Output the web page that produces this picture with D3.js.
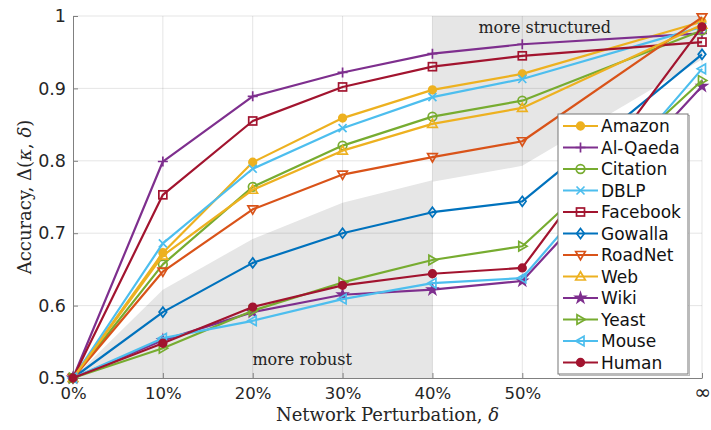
<!DOCTYPE html>
<html><head><meta charset="utf-8">
<script src="https://cdn.jsdelivr.net/npm/d3@7"></script>
<style>body{margin:0;background:#fff}svg{display:block}</style>
</head><body>
<script>
const categories = ["0%","10%","20%","30%","40%","50%","∞"];
const slots = [0,1,2,3,4,5,7];
const yTicks = [0.5,0.6,0.7,0.8,0.9,1];
const yTickLabels = ["0.5","0.6","0.7","0.8","0.9","1"];
const seriesNames = ["Amazon","Al-Qaeda","Citation","DBLP","Facebook","Gowalla","RoadNet","Web","Wiki","Yeast","Mouse","Human"];
const amazon   = [0.5,0.673,0.798,0.859,0.898,0.920,0.992];
const alqaeda  = [0.5,0.799,0.889,0.922,0.948,0.961,0.976];
const citation = [0.5,0.657,0.764,0.821,0.861,0.883,0.980];
const dblp     = [0.5,0.686,0.789,0.845,0.888,0.913,0.985];
const facebook = [0.5,0.753,0.855,0.902,0.930,0.945,0.964];
const gowalla  = [0.5,0.591,0.659,0.700,0.729,0.744,0.947];
const roadnet  = [0.5,0.647,0.733,0.781,0.805,0.827,0.998];
const web      = [0.5,0.669,0.760,0.814,0.851,0.873,0.988];
const wiki     = [0.5,0.552,0.591,0.615,0.622,0.634,0.903];
const yeast    = [0.5,0.541,0.593,0.632,0.663,0.682,0.911];
const mouse    = [0.5,0.555,0.579,0.609,0.631,0.638,0.927];
const human    = [0.5,0.548,0.598,0.628,0.644,0.652,0.985];
const seriesValues = [amazon,alqaeda,citation,dblp,facebook,gowalla,roadnet,web,wiki,yeast,mouse,human];
const colors = ["#EDB120","#7E2F8E","#77AC30","#4DBEEE","#A2142F","#0072BD","#D95319","#EDB120","#7E2F8E","#77AC30","#4DBEEE","#A2142F"];
const markers = ["circleF","plus","circle","cross","square","diamond","triDown","triUp","star","triRight","triLeft","circleF"];
// shaded bands: [slot, value]
const robustBand = [[0,0.5],[1,0.622],[2,0.692],[3,0.742],[4,0.773],[4,0.5]];
const structuredBand = [[4,1],[4,0.771],[5,0.793],[7,0.94],[7,1]];

const W=711,H=430;
const svg=d3.select("body").append("svg").attr("width",W).attr("height",H);
const x=d3.scaleLinear().domain([0,7]).range([73,702]);
const y=d3.scaleLinear().domain([0.5,1]).range([378,16]);

// bands
const area=d3.line().x(d=>x(d[0])).y(d=>y(d[1]));
svg.append("path").attr("d",area(robustBand)+"Z").attr("fill","#e6e6e6");
svg.append("path").attr("d",area(structuredBand)+"Z").attr("fill","#e6e6e6");

// grid
const g=svg.append("g");
g.selectAll(".vg").data(slots.slice(1)).enter().append("line")
 .attr("x1",d=>x(d)).attr("x2",d=>x(d)).attr("y1",y(0.5)).attr("y2",y(1))
 .attr("stroke","#262626").attr("stroke-opacity",0.12).attr("stroke-width",1);
g.selectAll(".hg").data(yTicks.slice(1)).enter().append("line")
 .attr("x1",x(0)).attr("x2",x(7)).attr("y1",d=>y(d)).attr("y2",d=>y(d))
 .attr("stroke","#262626").attr("stroke-opacity",0.12).attr("stroke-width",1);

// axes
const xAxis=d3.axisBottom(x).tickValues(slots).tickFormat((d,i)=>categories[i]).tickSizeInner(-5).tickSizeOuter(0).tickPadding(9);
const xa=svg.append("g").attr("transform",`translate(0,${y(0.5)})`).call(xAxis);
const yAxis=d3.axisLeft(y).tickValues(yTicks).tickFormat((d,i)=>yTickLabels[i]).tickSizeInner(-5).tickSizeOuter(0).tickPadding(7);
const ya=svg.append("g").attr("transform",`translate(${x(0)},0)`).call(yAxis);
[xa,ya].forEach(a=>{
  a.select(".domain").attr("stroke","#808080").attr("stroke-width",1);
  a.selectAll(".tick line").attr("stroke","#808080");
  a.selectAll("text").attr("fill","#262626").style("font-family","DejaVu Sans").style("font-size","16.5px");
});
ya.selectAll("text").style("font-size","17.5px");
xa.selectAll(".tick text").filter((d,i)=>categories[i]==="∞").style("font-size","20px").attr("dy","0.6em");

// text annotations
svg.append("text").attr("x",x(5.25)).attr("y",y(0.977)).attr("text-anchor","middle")
 .style("font-family","DejaVu Serif").style("font-size","16px").attr("fill","#222").text("more structured");
svg.append("text").attr("x",x(2.55)).attr("y",y(0.518)).attr("text-anchor","middle")
 .style("font-family","DejaVu Serif").style("font-size","16px").attr("fill","#222").text("more robust");

// axis titles
const yl=svg.append("text").attr("transform",`translate(31,${y(0.75)}) rotate(-90)`).attr("text-anchor","middle")
 .style("font-family","DejaVu Serif").style("font-size","18px").attr("fill","#262626");
yl.append("tspan").text("Accuracy, Δ(");
yl.append("tspan").style("font-style","italic").text("κ");
yl.append("tspan").text(", ");
yl.append("tspan").style("font-style","italic").text("δ");
yl.append("tspan").text(")");
const xl=svg.append("text").attr("x",x(3.5)).attr("y",421).attr("text-anchor","middle")
 .style("font-family","DejaVu Serif").style("font-size","18px").attr("fill","#262626");
xl.append("tspan").text("Network Perturbation, ");
xl.append("tspan").style("font-style","italic").text("δ");

// marker drawer
function drawMarker(sel,type,color,cx,cy){
  const s=4;
  const base={stroke:color,"stroke-width":1.7};
  let el;
  switch(type){
    case "circleF": el=sel.append("circle").attr("cx",cx).attr("cy",cy).attr("r",3.8).attr("fill",color); break;
    case "circle": el=sel.append("circle").attr("cx",cx).attr("cy",cy).attr("r",4.3).attr("fill","none"); break;
    case "square": el=sel.append("rect").attr("x",cx-4).attr("y",cy-4).attr("width",8).attr("height",8).attr("fill","none"); break;
    case "plus": el=sel.append("path").attr("d",`M${cx-s-1},${cy}H${cx+s+1}M${cx},${cy-s-1}V${cy+s+1}`).attr("fill","none"); break;
    case "cross": el=sel.append("path").attr("d",`M${cx-s},${cy-s}L${cx+s},${cy+s}M${cx-s},${cy+s}L${cx+s},${cy-s}`).attr("fill","none"); break;
    case "diamond": el=sel.append("path").attr("d",`M${cx},${cy-5}L${cx+3.8},${cy}L${cx},${cy+5}L${cx-3.8},${cy}Z`).attr("fill","none"); break;
    case "triDown": el=sel.append("path").attr("d",`M${cx-4.8},${cy-3.5}H${cx+4.8}L${cx},${cy+4.8}Z`).attr("fill","none"); break;
    case "triUp": el=sel.append("path").attr("d",`M${cx-4.8},${cy+3.5}H${cx+4.8}L${cx},${cy-4.8}Z`).attr("fill","none"); break;
    case "triRight": el=sel.append("path").attr("d",`M${cx-3.5},${cy-4.8}V${cy+4.8}L${cx+4.8},${cy}Z`).attr("fill","none"); break;
    case "triLeft": el=sel.append("path").attr("d",`M${cx+3.5},${cy-4.8}V${cy+4.8}L${cx-4.8},${cy}Z`).attr("fill","none"); break;
    case "star": el=sel.append("path").attr("d",d3.symbol(d3.symbolStar,28)()).attr("transform",`translate(${cx},${cy})`).attr("fill",color); break;
  }
  Object.entries(base).forEach(([k,v])=>el.attr(k,v));
}

// lines
const line=d3.line().x((d,i)=>x(slots[i])).y(d=>y(d));
seriesValues.forEach((vals,si)=>{
  const gg=svg.append("g");
  gg.append("path").attr("d",line(vals)).attr("fill","none").attr("stroke",colors[si]).attr("stroke-width",2.2).attr("stroke-linejoin","round");
  vals.forEach((v,i)=>drawMarker(gg,markers[si],colors[si],x(slots[i]),y(v)));
});

// legend
const lg=svg.append("g");
const lx=558, ly=114, lw=130, rowH=21.5;
lg.append("rect").attr("x",lx+1.5).attr("y",ly+1.5).attr("width",lw).attr("height",260).attr("fill","none").attr("stroke","#bbb");
lg.append("rect").attr("x",lx).attr("y",ly).attr("width",lw).attr("height",260).attr("fill","#fff").attr("stroke","#777").attr("stroke-width",1);
seriesNames.forEach((n,i)=>{
  const cy=ly+12+i*rowH;
  lg.append("line").attr("x1",lx+5).attr("x2",lx+40).attr("y1",cy).attr("y2",cy).attr("stroke",colors[i]).attr("stroke-width",2.2);
  drawMarker(lg,markers[i],colors[i],lx+22.5,cy);
  lg.append("text").attr("x",lx+43).attr("y",cy).attr("dy","0.36em").style("font-family","DejaVu Sans").style("font-size","17px").attr("fill","#111").text(n);
});
</script>
</body></html>
